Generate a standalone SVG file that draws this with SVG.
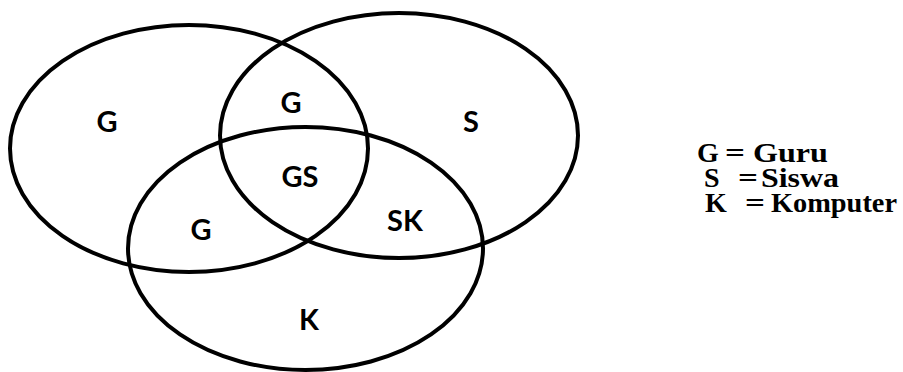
<svg xmlns="http://www.w3.org/2000/svg" width="903" height="372" viewBox="0 0 903 372">
<style>
.set{fill:none;stroke:#000;stroke-width:4}
.lbl{font-family:Lato,"Open Sans","Liberation Sans",sans-serif;font-weight:700;font-size:29px;fill:#000;text-anchor:middle}
.leg{font-family:"Liberation Serif","Times New Roman",serif;font-weight:700;font-size:28px;fill:#000}
</style>
<rect width="903" height="372" fill="#fff"/>
<g id="set-G"><ellipse class="set" cx="189" cy="148.5" rx="179" ry="123.5"/></g>
<g id="set-S"><ellipse class="set" cx="399" cy="135.5" rx="179" ry="122.5"/></g>
<g id="set-K"><ellipse class="set" cx="305.5" cy="248.5" rx="177.5" ry="121.5"/></g>
<g id="labels">
<text class="lbl" x="107" y="132">G</text>
<text class="lbl" x="291" y="113">G</text>
<text class="lbl" x="471" y="132">S</text>
<text class="lbl" x="300" y="187">GS</text>
<text class="lbl" x="405" y="231">SK</text>
<text class="lbl" x="201" y="240">G</text>
<text class="lbl" x="309" y="330">K</text>
</g>
<g id="legend">
<text class="leg" x="697" y="162">G</text>
<text class="leg" x="725" y="162" textLength="20" lengthAdjust="spacingAndGlyphs">=</text>
<text class="leg" x="753" y="162" textLength="75" lengthAdjust="spacingAndGlyphs">Guru</text>
<text class="leg" x="704" y="187">S</text>
<text class="leg" x="738" y="187" textLength="20" lengthAdjust="spacingAndGlyphs">=</text>
<text class="leg" x="761" y="187" textLength="78" lengthAdjust="spacingAndGlyphs">Siswa</text>
<text class="leg" x="705" y="212">K</text>
<text class="leg" x="745" y="212" textLength="20" lengthAdjust="spacingAndGlyphs">=</text>
<text class="leg" x="771" y="212" textLength="126" lengthAdjust="spacingAndGlyphs">Komputer</text>
</g>
</svg>
